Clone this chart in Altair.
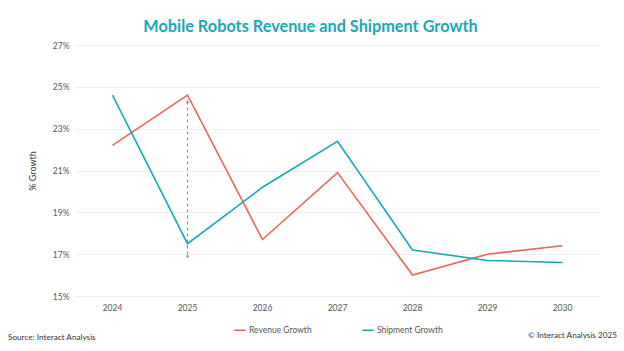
import altair as alt
import pandas as pd

years = ["2024", "2025", "2026", "2027", "2028", "2029", "2030"]
revenue = [22.2, 24.6, 17.7, 20.9, 16.0, 17.0, 17.4]
shipment = [24.6, 17.5, 20.2, 22.4, 17.2, 16.7, 16.6]
series_names = ["Revenue Growth", "Shipment Growth"]
series_colors = ["#E2685A", "#17A9B9"]
y_ticks = [15, 17, 19, 21, 23, 25, 27]

# annotation arrow at 2025 (percent values)
arrow_year = ["2025"]
arrow_top = [24.3]
arrow_bottom = [16.9]

rows = []
for y, r, s in zip(years, revenue, shipment):
    rows.append({"year": y, "series": series_names[0], "value": r})
    rows.append({"year": y, "series": series_names[1], "value": s})
df = pd.DataFrame(rows)
arrow_df = pd.DataFrame({"year": arrow_year, "top": arrow_top, "bottom": arrow_bottom})

FONT = "Lato"

x_enc = alt.X("year:O", sort=years, scale=alt.Scale(domain=years),
              axis=alt.Axis(title=None, labelAngle=0, labelFontSize=8.5, labelColor="#555555",
                            labelFont=FONT, ticks=False, domain=False, labelPadding=7, grid=False))
y_scale = alt.Scale(domain=[15, 27], nice=False, zero=False)

lines = alt.Chart(df).mark_line(strokeWidth=1.6).encode(
    x=x_enc,
    y=alt.Y("value:Q", scale=y_scale,
            axis=alt.Axis(title="% Growth", values=y_ticks, labelExpr="datum.value + '%'",
                          labelFontSize=8.5, labelColor="#555555", labelFont=FONT,
                          titleFont=FONT, titleFontSize=9, titleFontWeight="normal",
                          titleColor="#333333", titlePadding=15, labelPadding=6,
                          ticks=False, domain=False, gridColor="#f0f0f0", gridWidth=1)),
    color=alt.Color("series:N", scale=alt.Scale(domain=series_names, range=series_colors),
                    legend=alt.Legend(title=None, orient="none", direction="horizontal",
                                      legendX=158, legendY=278,
                                      symbolType="stroke", symbolSize=130, symbolStrokeWidth=1.6,
                                      labelFont=FONT, labelFontSize=8.5, labelColor="#555555",
                                      labelOffset=2, columnPadding=47)),
)

rule = alt.Chart(arrow_df).mark_rule(color="#8a8a8a", strokeDash=[3, 3], strokeWidth=1).encode(
    x=alt.X("year:O", sort=years), y=alt.Y("top:Q", scale=y_scale), y2="bottom:Q")
head = alt.Chart(arrow_df).mark_point(shape="triangle-up", filled=True, size=14, color="#777777").encode(
    x=alt.X("year:O", sort=years), y=alt.Y("top:Q", scale=y_scale))
tail = alt.Chart(arrow_df).mark_point(shape="cross", filled=True, size=10, color="#777777").encode(
    x=alt.X("year:O", sort=years), y=alt.Y("bottom:Q", scale=y_scale))

source = alt.Chart(pd.DataFrame({"t": ["Source: Interact Analysis"]})).mark_text(
    align="left", baseline="middle", font=FONT, fontSize=8.2, color="#333333").encode(
    text="t:N", x=alt.value(-67), y=alt.value(293))
copyright_ = alt.Chart(pd.DataFrame({"t": ["© Interact Analysis 2025"]})).mark_text(
    align="right", baseline="middle", font=FONT, fontSize=8.2, color="#333333").encode(
    text="t:N", x=alt.value(542), y=alt.value(291))

chart = alt.layer(lines, rule, head, tail, source, copyright_).properties(
    width=525, height=251,
    background="white",
    title=alt.TitleParams("Mobile Robots Revenue and Shipment Growth", font="Lato", fontSize=16.3,
                          fontWeight="bold", color="#17A9B9", anchor="middle", frame="group",
                          offset=6, dx=-27),
    autosize=alt.AutoSizeParams(type="none"),
    padding={"left": 75, "top": 45, "right": 24, "bottom": 55},
).configure_view(strokeWidth=0, stroke="transparent")

chart.save("out.html", embed_options={"renderer": "svg", "actions": False})
